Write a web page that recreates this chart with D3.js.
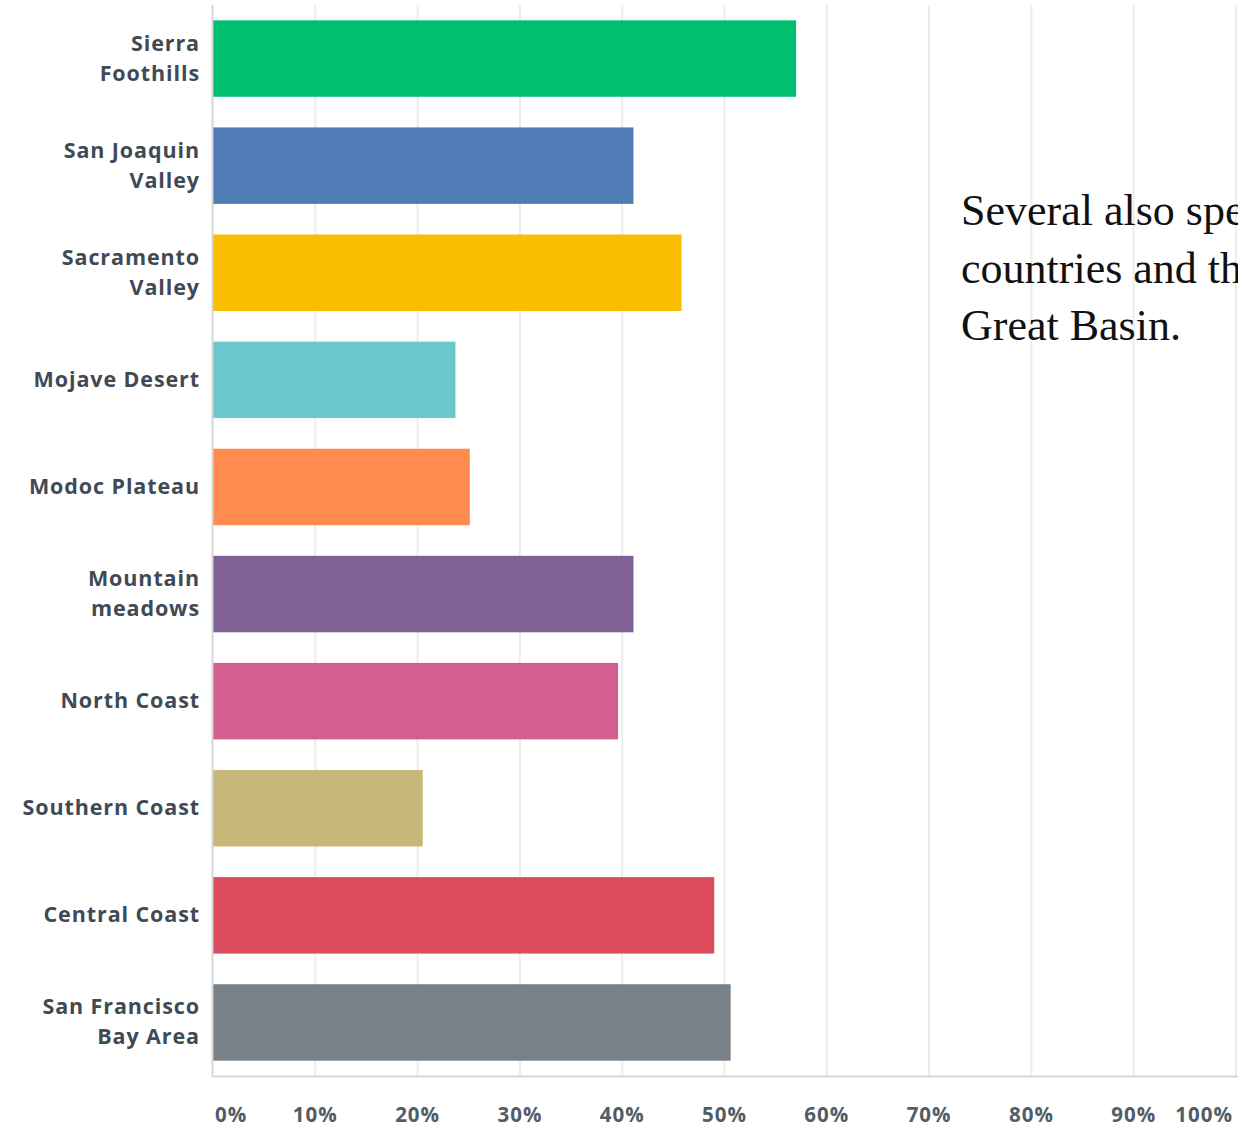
<!DOCTYPE html>
<html><head><meta charset="utf-8">
<script src="https://cdn.jsdelivr.net/npm/d3@7"></script>
<style>html,body{margin:0;padding:0;background:#fff;overflow:hidden}</style>
</head><body>
<svg id="chart" width="1238" height="1126"></svg>
<script>
const categories = [["Sierra","Foothills"],["San Joaquin","Valley"],["Sacramento","Valley"],["Mojave Desert"],["Modoc Plateau"],["Mountain","meadows"],["North Coast"],["Southern Coast"],["Central Coast"],["San Francisco","Bay Area"]];
const values = [57.0, 41.1, 45.8, 23.7, 25.1, 41.1, 39.6, 20.5, 49.0, 50.6];
const colors = ["#00bf6f","#507cb6","#f9be00","#6bc8cd","#ff8b4f","#7f6197","#d25f90","#c7b879","#db4d5d","#788088"];
const tickValues = [0,10,20,30,40,50,60,70,80,90,100];
const tickLabels = ["0%","10%","20%","30%","40%","50%","60%","70%","80%","90%","100%"];
const note = ["Several also specified other","countries and the","Great Basin."];

const svg = d3.select("#chart");
const x = d3.scaleLinear().domain([0,100]).range([213,1236]);
const y = d3.scaleBand().domain(d3.range(categories.length)).range([5,1076]).paddingInner(0.286).paddingOuter(0.143);

// gridlines
svg.append("g").selectAll("line").data(tickValues.slice(1)).join("line")
  .attr("x1",d=>x(d)).attr("x2",d=>x(d)).attr("y1",5).attr("y2",1076)
  .attr("stroke","#ececec").attr("stroke-width",2);

// annotation text
svg.append("g").selectAll("text").data(note).join("text")
  .attr("x",961).attr("y",(d,i)=>225+i*57.5)
  .attr("font-family","'Liberation Serif', 'DejaVu Serif', serif")
  .attr("font-size",44).attr("fill","#111").text(d=>d);

// bars
svg.append("g").selectAll("rect").data(values).join("rect")
  .attr("x",x(0)).attr("y",(d,i)=>y(i)).attr("width",d=>x(d)-x(0)).attr("height",y.bandwidth())
  .attr("fill",(d,i)=>colors[i]);

// axes lines
svg.append("line").attr("x1",212.5).attr("x2",212.5).attr("y1",5).attr("y2",1077).attr("stroke","#d6d6d6").attr("stroke-width",2);
svg.append("line").attr("x1",212).attr("x2",1238).attr("y1",1076.5).attr("y2",1076.5).attr("stroke","#d6d6d6").attr("stroke-width",2);

// category labels
const lab = svg.append("g").selectAll("text").data(categories).join("text")
  .attr("text-anchor","end")
  .attr("font-family","'Open Sans', Roboto, sans-serif").attr("font-weight",700)
  .attr("font-size",21.5).attr("letter-spacing",0.9).attr("fill","#3f4a55");
lab.each(function(d,i){
  const t = d3.select(this);
  const cy = y(i)+y.bandwidth()/2;
  const n = d.length;
  d.forEach((s,j)=>{
    t.append("tspan").attr("x",200).attr("y",cy + (j-(n-1)/2)*30 + 7).text(s);
  });
});

// x tick labels
svg.append("g").selectAll("text").data(tickValues).join("text")
  .attr("x",d=>d===0?x(0)+2:(d===100?x(100)-3:x(d)))
  .attr("y",1122)
  .attr("text-anchor",d=>d===0?"start":(d===100?"end":"middle"))
  .attr("font-family","'Open Sans', Roboto, sans-serif").attr("font-weight",700)
  .attr("font-size",20.5).attr("letter-spacing",1).attr("fill","#525c66")
  .text((d,i)=>tickLabels[i]);
</script>
</body></html>
